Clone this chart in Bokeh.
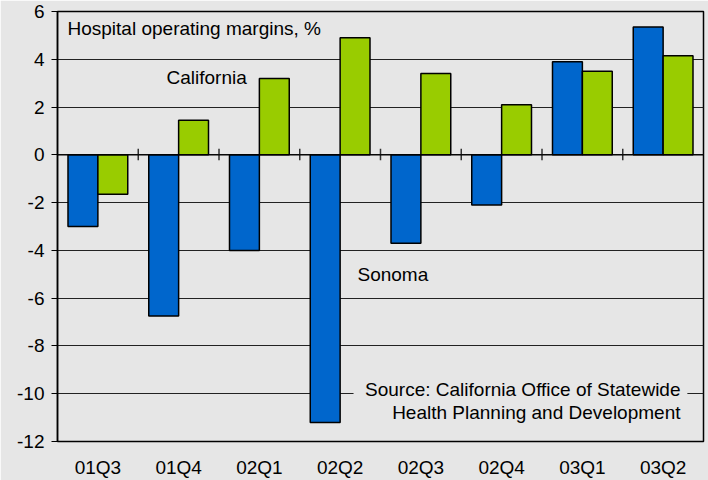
from bokeh.plotting import figure
from bokeh.models import ColumnDataSource, FixedTicker, Label, Span, FactorRange, BoxAnnotation
from bokeh.transform import dodge
from bokeh.embed import file_html
from bokeh.resources import INLINE

categories = ["01Q3", "01Q4", "02Q1", "02Q2", "02Q3", "02Q4", "03Q1", "03Q2"]
sonoma = [-3.0, -6.75, -4.0, -11.2, -3.7, -2.1, 3.9, 5.35]
california = [-1.65, 1.45, 3.2, 4.9, 3.4, 2.1, 3.5, 4.15]
y_ticks = [-12, -10, -8, -6, -4, -2, 0, 2, 4, 6]

BG = "#e6e6e6"
FONT = "Liberation Sans"
FS = "19px"

src = ColumnDataSource(dict(cat=categories, sonoma=sonoma, california=california))

p = figure(width=708, height=480, x_range=FactorRange(*categories), y_range=(-12, 6),
           output_backend="svg", toolbar_location=None,
           background_fill_color=BG, border_fill_color=BG,
           min_border_left=57, min_border_right=5, min_border_top=11, min_border_bottom=39)

p.outline_line_color = "black"
p.outline_line_width = 1.5

p.vbar(x=dodge("cat", -0.185, range=p.x_range), top="sonoma", bottom=0, width=0.37,
       source=src, fill_color="#0066cc", line_color="black", line_width=1.5)
p.vbar(x=dodge("cat", 0.185, range=p.x_range), top="california", bottom=0, width=0.37,
       source=src, fill_color="#99cc00", line_color="black", line_width=1.5)

# zero line and category separator ticks
p.add_layout(Span(location=0, dimension="width", line_color="black", line_width=1.2))
bounds = list(range(1, len(categories)))
p.segment(x0=bounds, x1=bounds, y0=[0.25] * len(bounds), y1=[-0.23] * len(bounds),
          line_color="#333333", line_width=1.5)

# grid
p.xgrid.grid_line_color = None
p.ygrid.grid_line_color = "#222222"
p.ygrid.grid_line_width = 1
p.ygrid.ticker = FixedTicker(ticks=y_ticks)

# y axis
p.yaxis.ticker = FixedTicker(ticks=y_ticks)
p.yaxis.major_label_overrides = {t: str(t) for t in y_ticks}
p.yaxis.minor_tick_line_color = None
p.yaxis.major_tick_in = 0
p.yaxis.major_tick_out = 6
p.yaxis.major_tick_line_color = "black"
p.yaxis.axis_line_color = "black"
p.yaxis.axis_line_width = 1.5
p.yaxis.major_label_text_font = FONT
p.yaxis.major_label_text_font_size = FS
p.yaxis.major_label_text_color = "black"
p.yaxis.major_label_standoff = 7

# x axis
p.xaxis.axis_line_color = None
p.xaxis.major_tick_line_color = None
p.xaxis.minor_tick_line_color = None
p.xaxis.major_label_text_font = FONT
p.xaxis.major_label_text_font_size = FS
p.xaxis.major_label_text_color = "black"
p.xaxis.major_label_standoff = 9

# background patch behind the source note (hides the gridline)
p.add_layout(BoxAnnotation(left=3.666, right=7.80, bottom=-10.3, top=-9.7,
                           fill_color=BG, fill_alpha=1.0, line_color=None))

def lab(text, x, y, **kw):
    p.add_layout(Label(x=x, y=y, text=text, text_font=FONT, text_font_size=FS,
                       text_color="black", text_baseline="middle", **kw))

lab("Hospital operating margins, %", 0.124, 5.29)
lab("California", 1.35, 3.24)
lab("Sonoma", 3.715, -5.0)
lab("Source: California Office of Statewide", 7.715, -9.82, text_align="right")
lab("Health Planning and Development", 7.715, -10.78, text_align="right")

open("out.html", "w").write(file_html(p, INLINE))
